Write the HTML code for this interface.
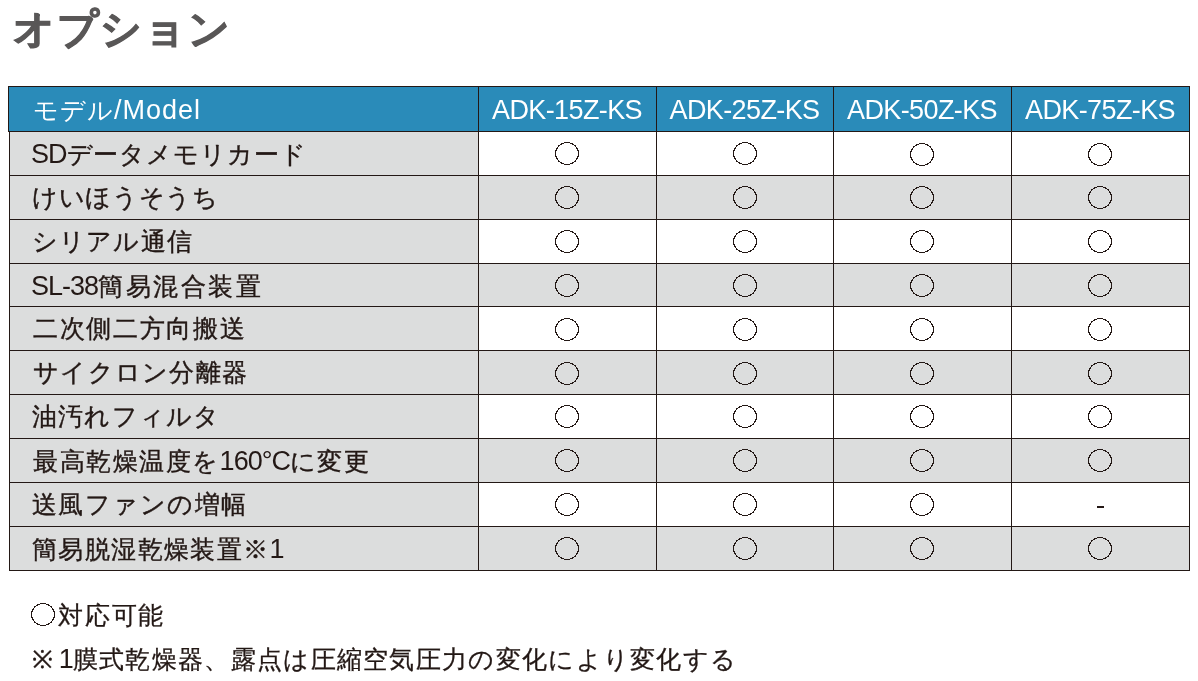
<!DOCTYPE html><html><head><meta charset="utf-8"><style>
html,body{margin:0;padding:0;background:#fff;}
body{width:1198px;height:681px;overflow:hidden;position:relative;font-family:"Liberation Sans",sans-serif;color:#231815;}
.b{position:absolute;}
.t{position:absolute;white-space:nowrap;line-height:1;will-change:transform;}
.title{left:13px;top:9px;font-size:40.5px;font-weight:bold;color:#595757;letter-spacing:1.7px;-webkit-text-stroke:1px #595757;}
.lbl{font-size:25px;left:32px;letter-spacing:1px;-webkit-text-stroke:0.4px #231815;}
.L{font-size:27px;letter-spacing:-1px;-webkit-text-stroke:0;}
.hd{font-size:25px;color:#fff;letter-spacing:1px;}
.hm{font-size:27px;letter-spacing:-0.6px;color:#fff;text-align:center;}
.ck{position:absolute;width:24px;height:23px;}
.ft{font-size:25px;letter-spacing:1.3px;-webkit-text-stroke:0.3px #231815;}
</style></head><body>
<div class="t title">オプション</div>
<div class="b" style="left:8px;top:86px;width:1181px;height:45px;background:#2a8bb9"></div>
<div class="b" style="left:9px;top:131px;width:469px;height:44px;background:#dcdddd"></div>
<div class="b" style="left:9px;top:175px;width:469px;height:44px;background:#dcdddd"></div>
<div class="b" style="left:478px;top:175px;width:711px;height:44px;background:#dcdddd"></div>
<div class="b" style="left:9px;top:219px;width:469px;height:44px;background:#dcdddd"></div>
<div class="b" style="left:9px;top:263px;width:469px;height:43px;background:#dcdddd"></div>
<div class="b" style="left:478px;top:263px;width:711px;height:43px;background:#dcdddd"></div>
<div class="b" style="left:9px;top:306px;width:469px;height:44px;background:#dcdddd"></div>
<div class="b" style="left:9px;top:350px;width:469px;height:44px;background:#dcdddd"></div>
<div class="b" style="left:478px;top:350px;width:711px;height:44px;background:#dcdddd"></div>
<div class="b" style="left:9px;top:394px;width:469px;height:44px;background:#dcdddd"></div>
<div class="b" style="left:9px;top:438px;width:469px;height:44px;background:#dcdddd"></div>
<div class="b" style="left:478px;top:438px;width:711px;height:44px;background:#dcdddd"></div>
<div class="b" style="left:9px;top:482px;width:469px;height:44px;background:#dcdddd"></div>
<div class="b" style="left:9px;top:526px;width:469px;height:44px;background:#dcdddd"></div>
<div class="b" style="left:478px;top:526px;width:711px;height:44px;background:#dcdddd"></div>
<div class="b" style="left:8px;top:86px;width:1182px;height:1px;background:#231815"></div>
<div class="b" style="left:8px;top:131px;width:1182px;height:1px;background:#231815"></div>
<div class="b" style="left:9px;top:175px;width:1181px;height:1px;background:#231815"></div>
<div class="b" style="left:9px;top:219px;width:1181px;height:1px;background:#231815"></div>
<div class="b" style="left:9px;top:263px;width:1181px;height:1px;background:#231815"></div>
<div class="b" style="left:9px;top:306px;width:1181px;height:1px;background:#231815"></div>
<div class="b" style="left:9px;top:350px;width:1181px;height:1px;background:#231815"></div>
<div class="b" style="left:9px;top:394px;width:1181px;height:1px;background:#231815"></div>
<div class="b" style="left:9px;top:438px;width:1181px;height:1px;background:#231815"></div>
<div class="b" style="left:9px;top:482px;width:1181px;height:1px;background:#231815"></div>
<div class="b" style="left:9px;top:526px;width:1181px;height:1px;background:#231815"></div>
<div class="b" style="left:9px;top:570px;width:1181px;height:1px;background:#231815"></div>
<div class="b" style="left:8px;top:86px;width:1px;height:46px;background:#231815"></div>
<div class="b" style="left:9px;top:131px;width:1px;height:440px;background:#231815"></div>
<div class="b" style="left:478px;top:86px;width:1px;height:485px;background:#231815"></div>
<div class="b" style="left:656px;top:86px;width:1px;height:485px;background:#231815"></div>
<div class="b" style="left:833px;top:86px;width:1px;height:485px;background:#231815"></div>
<div class="b" style="left:1011px;top:86px;width:1px;height:485px;background:#231815"></div>
<div class="b" style="left:1189px;top:86px;width:1px;height:485px;background:#231815"></div>
<div class="t hd" style="left:33px;top:97px">モデル<span class="L" style="letter-spacing:1px">/Model</span></div>
<div class="t hm" style="left:478px;top:97px;width:178px">ADK-15Z-KS</div>
<div class="t hm" style="left:656px;top:97px;width:177px">ADK-25Z-KS</div>
<div class="t hm" style="left:833px;top:97px;width:178px">ADK-50Z-KS</div>
<div class="t hm" style="left:1011px;top:97px;width:178px">ADK-75Z-KS</div>
<div class="t lbl" style="top:141px;left:31.20px;letter-spacing:0.880px"><span class="L">SD</span>データメモリカード</div>
<div class="t lbl" style="top:185px;left:32.20px;letter-spacing:0.700px">けいほうそうち</div>
<div class="t lbl" style="top:229px;left:31.80px;letter-spacing:1.160px">シリアル通信</div>
<div class="t lbl" style="top:273px;left:31.00px;letter-spacing:2.500px"><span class="L">SL-38</span>簡易混合装置</div>
<div class="t lbl" style="top:316px;left:33.20px;letter-spacing:1.686px">二次側二方向搬送</div>
<div class="t lbl" style="top:360px;left:32.80px;letter-spacing:1.257px">サイクロン分離器</div>
<div class="t lbl" style="top:404px;left:32.40px;letter-spacing:1.167px">油汚れフィルタ</div>
<div class="t lbl" style="top:448px;left:32.60px;letter-spacing:1.514px">最高乾燥温度を<span class="L">160°C</span>に変更</div>
<div class="t lbl" style="top:492px;left:31.60px;letter-spacing:1.429px">送風ファンの増幅</div>
<div class="b" style="left:1097px;top:506px;width:7px;height:2px;background:#231815"></div>
<div class="t lbl" style="top:536px;left:32.20px;letter-spacing:1.400px">簡易脱湿乾燥装置※<span class="L">1</span></div>
<svg style="position:absolute;left:0;top:0" width="1198" height="681" shape-rendering="crispEdges"><defs><path id="c" fill="#231815" d="M9 0h6v1h-6zM6 1h3v1h-3zM15 1h3v1h-3zM5 2h2v1h-2zM17 2h2v1h-2zM3 3h2v1h-2zM19 3h2v1h-2zM3 4h1v1h-1zM20 4h1v1h-1zM2 5h1v1h-1zM21 5h1v1h-1zM1 6h2v1h-2zM21 6h2v1h-2zM1 7h1v1h-1zM22 7h1v1h-1zM0 8h2v1h-2zM22 8h2v1h-2zM0 9h1v1h-1zM23 9h1v1h-1zM0 10h1v1h-1zM23 10h1v1h-1zM0 11h1v1h-1zM23 11h1v1h-1zM0 12h1v1h-1zM23 12h1v1h-1zM0 13h1v1h-1zM23 13h1v1h-1zM0 14h2v1h-2zM22 14h2v1h-2zM1 15h1v1h-1zM22 15h1v1h-1zM1 16h2v1h-2zM21 16h2v1h-2zM2 17h1v1h-1zM21 17h1v1h-1zM3 18h1v1h-1zM20 18h1v1h-1zM3 19h2v1h-2zM19 19h2v1h-2zM5 20h2v1h-2zM17 20h2v1h-2zM6 21h3v1h-3zM15 21h3v1h-3zM9 22h6v1h-6z"/></defs>
<use href="#c" x="555" y="142"/>
<use href="#c" x="733" y="142"/>
<use href="#c" x="910" y="143"/>
<use href="#c" x="1088" y="143"/>
<use href="#c" x="555" y="186"/>
<use href="#c" x="733" y="186"/>
<use href="#c" x="910" y="186"/>
<use href="#c" x="1088" y="186"/>
<use href="#c" x="555" y="230"/>
<use href="#c" x="733" y="230"/>
<use href="#c" x="910" y="230"/>
<use href="#c" x="1088" y="230"/>
<use href="#c" x="555" y="274"/>
<use href="#c" x="733" y="274"/>
<use href="#c" x="910" y="274"/>
<use href="#c" x="1088" y="274"/>
<use href="#c" x="555" y="318"/>
<use href="#c" x="733" y="318"/>
<use href="#c" x="910" y="318"/>
<use href="#c" x="1088" y="318"/>
<use href="#c" x="555" y="362"/>
<use href="#c" x="733" y="362"/>
<use href="#c" x="910" y="362"/>
<use href="#c" x="1088" y="362"/>
<use href="#c" x="555" y="405"/>
<use href="#c" x="733" y="405"/>
<use href="#c" x="910" y="405"/>
<use href="#c" x="1088" y="405"/>
<use href="#c" x="555" y="449"/>
<use href="#c" x="733" y="449"/>
<use href="#c" x="910" y="449"/>
<use href="#c" x="1088" y="449"/>
<use href="#c" x="555" y="493"/>
<use href="#c" x="733" y="493"/>
<use href="#c" x="910" y="493"/>
<use href="#c" x="555" y="537"/>
<use href="#c" x="733" y="537"/>
<use href="#c" x="910" y="537"/>
<use href="#c" x="1088" y="537"/>
<use href="#c" x="31" y="603"/>
</svg>
<div class="t ft" style="left:58px;top:602.5px;letter-spacing:1.8px">対応可能</div>
<div class="t ft" style="left:31.5px;top:645.5px">※<span class="L" style="margin-left:4.5px">1</span>膜式乾燥器、露点は圧縮空気圧力の変化により変化する</div>
</body></html>
